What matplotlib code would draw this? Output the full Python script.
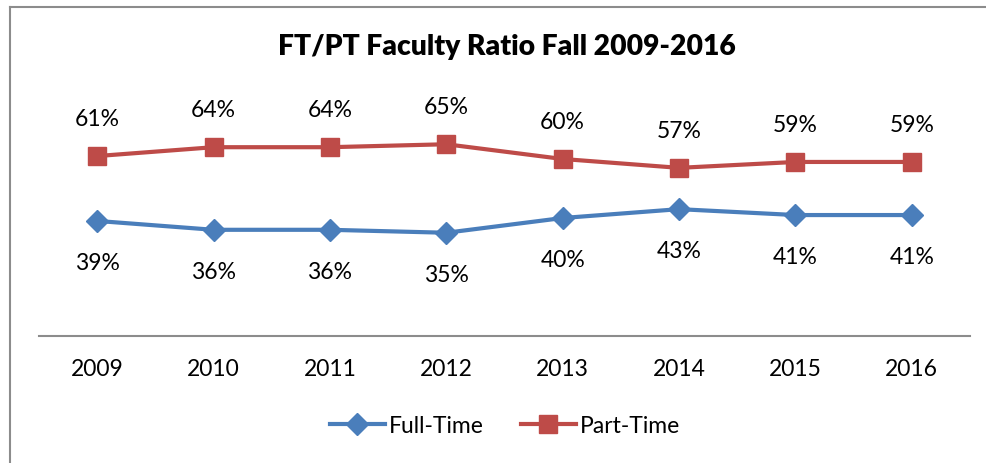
import matplotlib.pyplot as plt
from matplotlib.lines import Line2D

years = ['2009', '2010', '2011', '2012', '2013', '2014', '2015', '2016']
full_time = [39, 36, 36, 35, 40, 43, 41, 41]
part_time = [61, 64, 64, 65, 60, 57, 59, 59]

blue = '#4A7EBB'
red = '#BE4B48'

plt.rcParams['font.family'] = ['Lato', 'DejaVu Sans']

fig = plt.figure(figsize=(9.87, 4.64), dpi=100)
ax = fig.add_axes([39 / 987, 127 / 464, 931 / 987, 236 / 464])

x = list(range(len(years)))
ax.plot(x, full_time, color=blue, lw=3, marker='D', markersize=11, label='Full-Time')
ax.plot(x, part_time, color=red, lw=3, marker='s', markersize=13, label='Part-Time')

# data labels: full-time below the line, part-time above
for xi, v in zip(x, full_time):
    ax.annotate(f'{v}%', (xi, v), xytext=(0, -30), textcoords='offset points',
                ha='center', va='center', fontsize=16.5)
for xi, v in zip(x, part_time):
    ax.annotate(f'{v}%', (xi, v), xytext=(0, 27), textcoords='offset points',
                ha='center', va='center', fontsize=16.5)

ax.set_xlim(-0.5, len(years) - 0.5)
ax.set_ylim(0, 80)
ax.set_yticks([])
ax.set_xticks(x)
ax.set_xticklabels(years, fontsize=16.5)
ax.tick_params(axis='x', length=0, pad=16)
for s in ['top', 'right', 'left']:
    ax.spines[s].set_visible(False)
ax.spines['bottom'].set_color('#8C8C8C')
ax.spines['bottom'].set_linewidth(1.5)

fig.text(507 / 987, 1 - 47 / 464, 'FT/PT Faculty Ratio Fall 2009-2016',
         ha='center', va='center', fontsize=20.3, fontweight='heavy')

fig.legend(loc='center', bbox_to_anchor=(505 / 987, 1 - 427 / 464), ncol=2,
           frameon=False, fontsize=16.5, handlelength=2.4, columnspacing=1.6,
           handletextpad=0.2)

# chart frame: only left and top edges are visible in the crop
top = 1 - 7.5 / 464
left = 10.5 / 987
fig.add_artist(Line2D([left, 1], [top, top], transform=fig.transFigure,
                      color='#8C8C8C', lw=1.5))
fig.add_artist(Line2D([left, left], [0, top], transform=fig.transFigure,
                      color='#8C8C8C', lw=1.5))

fig.savefig('out.png', dpi=100)
